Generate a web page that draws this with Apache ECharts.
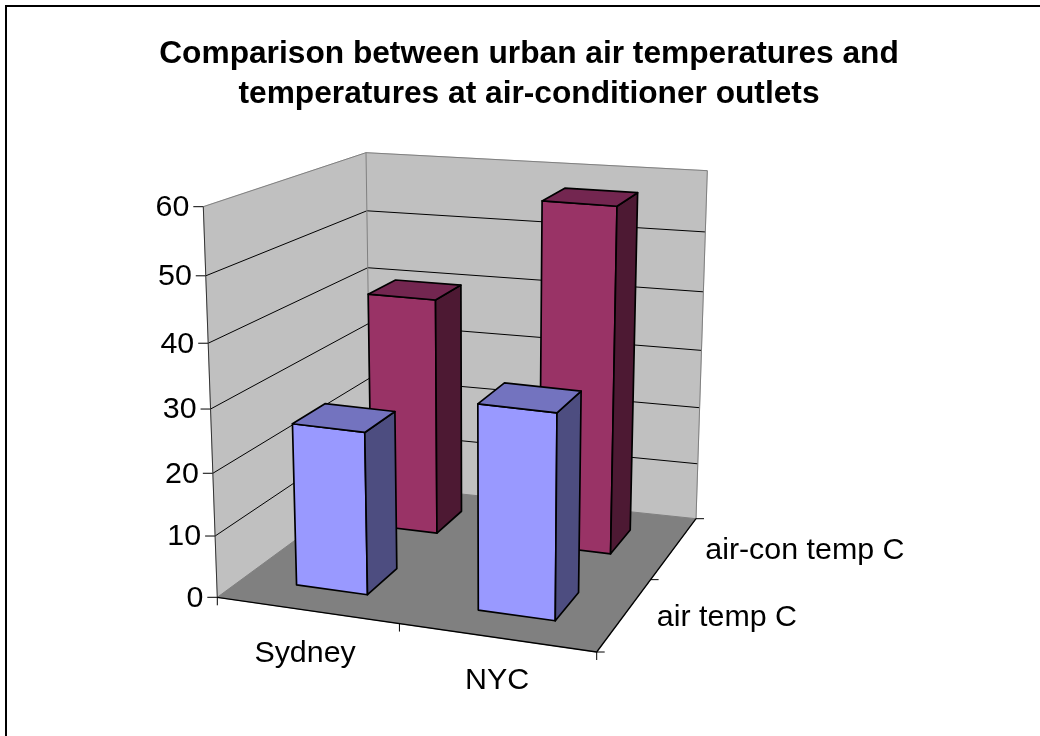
<!DOCTYPE html>
<html>
<head>
<meta charset="utf-8">
<title>Air temperature comparison</title>
<script src="https://cdn.jsdelivr.net/npm/echarts@6/dist/echarts.min.js"></script>
<style>
  html, body { margin: 0; padding: 0; background: #fff; }
  #chart { width: 1040px; height: 736px; }
</style>
</head>
<body>
<div id="chart"></div>
<script>
// chart data
const categories = ['Sydney', 'NYC']
const depthNames = ['air-con temp C', 'air temp C']
const airConTemp = [40.2, 57.5]
const airTemp = [26.3, 32.8]
const valueTicks = [0, 10, 20, 30, 40, 50, 60]

const FONT = '"Liberation Sans", Arial, sans-serif'
const GRID = { left: 0, top: 0, width: 1000, height: 600 }

// corners of the 3d box on screen: [screen x, screen y, perspective weight]
// named bottom/top + back/front + left/right
const BOX = {
  bbl: [371, 484.5, 1],
  bbr: [696, 518.7, 0.914],
  bfl: [217.3, 597.3, 0.834],
  bfr: [596.7, 652, 0.77],
  tbl: [366, 152.7, 0.942],
  tbr: [707.3, 170.7, 0.856],
  tfl: [203.3, 206.7, 0.776],
  tfr: [602, 246, 0.712]
}

// u: left to right, v: bottom to top, w: back to front, all 0..1
function project(u, v, w) {
  const corners = [
    [BOX.bbl, (1 - u) * (1 - v) * (1 - w)],
    [BOX.bbr, u * (1 - v) * (1 - w)],
    [BOX.bfl, (1 - u) * (1 - v) * w],
    [BOX.bfr, u * (1 - v) * w],
    [BOX.tbl, (1 - u) * v * (1 - w)],
    [BOX.tbr, u * v * (1 - w)],
    [BOX.tfl, (1 - u) * v * w],
    [BOX.tfr, u * v * w]
  ]
  let x = 0, y = 0, sum = 0
  corners.forEach(([c, b]) => {
    x += c[0] * c[2] * b
    y += c[1] * c[2] * b
    sum += c[2] * b
  })
  return [x / sum, y / sum]
}

// read the axes of the hidden grid back as 0..1
function toUnit(api, cat, val) {
  const p = api.coord([cat, val])
  return [(p[0] - GRID.left) / GRID.width, (GRID.top + GRID.height - p[1]) / GRID.height]
}

function poly(points, fill, stroke, lineWidth) {
  return {
    type: 'polygon',
    shape: { points },
    style: { fill, stroke: stroke || fill, lineWidth: lineWidth || 1, lineJoin: 'round' }
  }
}

function line(a, b, stroke, lineWidth) {
  return {
    type: 'line',
    shape: { x1: a[0], y1: a[1], x2: b[0], y2: b[1] },
    style: { stroke, lineWidth: lineWidth || 1 }
  }
}

function label(text, x, y, align) {
  return {
    type: 'text',
    style: { text, x, y, align, verticalAlign: 'middle', fill: '#000', font: '30.4px ' + FONT }
  }
}

function renderBox(params, api) {
  const children = [
    poly([project(0, 0, 1), project(0, 0, 0), project(0, 1, 0), project(0, 1, 1)], '#c0c0c0'),
    poly([project(0, 0, 0), project(1, 0, 0), project(1, 1, 0), project(0, 1, 0)], '#c0c0c0'),
    poly([project(0, 0, 0), project(1, 0, 0), project(1, 0, 1), project(0, 0, 1)], '#808080')
  ]
  valueTicks.forEach((t) => {
    const v = toUnit(api, 0, t)[1]
    const front = project(0, v, 1)
    const back = project(0, v, 0)
    const gridColor = t === 60 ? '#808080' : '#000'
    if (t > 0) {
      children.push(line(front, back, gridColor))
      children.push(line(back, project(1, v, 0), gridColor))
    }
    children.push(line(front, [front[0] - 10, front[1]], '#000'))
    children.push(label(String(t), front[0] - 14, front[1] + 1, 'right'))
  })
  children.push(line(project(0, 0, 0), project(0, 1, 0), '#808080'))
  children.push(line(project(1, 0, 0), project(1, 1, 0), '#808080'))
  children.push(line(project(0, 0, 1), project(0, 1, 1), '#333'))
  children.push(line(project(0, 0, 1), project(1, 0, 1), '#000', 1.3))
  children.push(line(project(1, 0, 1), project(1, 0, 0), '#000', 1.3))

  // category ticks and labels
  categories.forEach((name, i) => {
    const u = toUnit(api, i, 0)[0]
    const p = project(u, 0, 1)
    children.push(label(name, p[0] + (i ? 1 : -1.5), p[1] + 43, 'center'))
  })
  for (let i = 0; i <= categories.length; i++) {
    const p = project(i / categories.length, 0, 1)
    children.push(line(p, [p[0], p[1] + 8], '#000'))
  }
  // depth ticks and labels
  depthNames.forEach((name, i) => {
    const p = project(1, 0, (i + 0.5) / depthNames.length)
    children.push(label(name, p[0] + (i ? 32 : 31), p[1] + 3, 'left'))
  })
  for (let i = 0; i <= depthNames.length; i++) {
    const p = project(1, 0, i / depthNames.length)
    children.push(line(p, [p[0] + 8, p[1]], '#000'))
  }
  return { type: 'group', children }
}

// one bar per data item, row is the position along the depth axis
function barRenderer(row, front, top, side) {
  return function (params, api) {
    const cat = api.value(0)
    const val = api.value(1)
    const u = toUnit(api, cat, val)[0] + 0.002
    const v = toUnit(api, cat, val)[1]
    const halfW = 0.1
    const halfD = 0.1
    const w = (row + 0.5) / depthNames.length
    const c = (du, dv, dw) => project(u + du * halfW, dv ? v : 0, w + dw * halfD)
    const edge = '#000'
    return {
      type: 'group',
      children: [
        poly([c(-1, 0, 1), c(1, 0, 1), c(1, 1, 1), c(-1, 1, 1)], front, edge, 1.7),
        poly([c(1, 0, 1), c(1, 0, -1), c(1, 1, -1), c(1, 1, 1)], side, edge, 1.7),
        poly([c(-1, 1, 1), c(1, 1, 1), c(1, 1, -1), c(-1, 1, -1)], top, edge, 1.7)
      ]
    }
  }
}

const chart = echarts.init(document.getElementById('chart'))
chart.setOption({
  animation: false,
  backgroundColor: '#fff',
  title: {
    text: 'Comparison between urban air temperatures and\ntemperatures at air-conditioner outlets',
    left: 524,
    top: 29,
    textAlign: 'center',
    textStyle: { fontFamily: FONT, fontWeight: 'bold', fontSize: 31.7, lineHeight: 40, color: '#000' }
  },
  grid: GRID,
  xAxis: { type: 'category', data: categories, show: false },
  yAxis: { type: 'value', min: 0, max: 60, interval: 10, show: false },
  graphic: [
    { type: 'line', shape: { x1: 6, y1: 6, x2: 1040, y2: 6 }, style: { stroke: '#000', lineWidth: 2 } },
    { type: 'line', shape: { x1: 6, y1: 5, x2: 6, y2: 736 }, style: { stroke: '#000', lineWidth: 2 } }
  ],
  series: [
    {
      type: 'custom',
      silent: true,
      clip: false,
      z: 1,
      data: [[0, 0]],
      renderItem: renderBox
    },
    {
      name: depthNames[0],
      type: 'custom',
      silent: true,
      clip: false,
      z: 2,
      data: airConTemp.map((d, i) => [i, d]),
      renderItem: barRenderer(0, '#993366', '#732650', '#4d1933')
    },
    {
      name: depthNames[1],
      type: 'custom',
      silent: true,
      clip: false,
      z: 3,
      data: airTemp.map((d, i) => [i, d]),
      renderItem: barRenderer(1, '#9999ff', '#7373bf', '#4d4d80')
    }
  ]
})
</script>
</body>
</html>
